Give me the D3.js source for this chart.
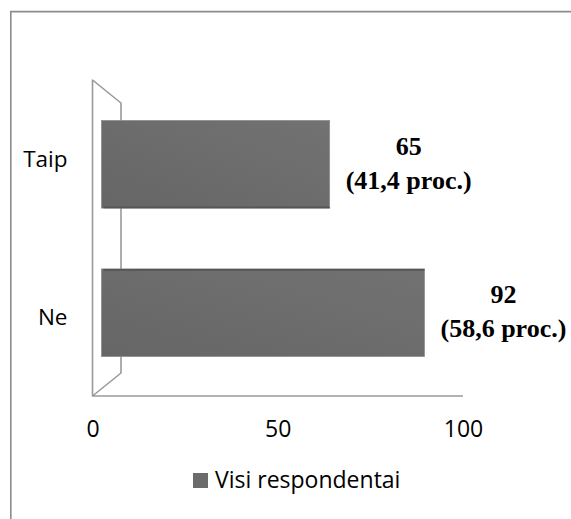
<!DOCTYPE html>
<html>
<head>
<meta charset="utf-8">
<script src="https://cdn.jsdelivr.net/npm/d3@7"></script>
<style>
  html, body { margin: 0; padding: 0; background: #fff; }
  svg { display: block; }
</style>
</head>
<body>
<svg id="chart" width="571" height="519"></svg>
<script>
// Survey answers: count of respondents per answer
const categories = ["Taip", "Ne"];
const counts = [65, 92];
const percents = ["41,4", "58,6"];
const tickValues = [0, 50, 100];
const seriesName = "Visi respondentai";

const svg = d3.select("#chart");
const W = 571, H = 519;

const lineColor = "#9a9a9a";
const barColor = "#6b6b6b";

// outer frame (top and left edges)
svg.append("path")
  .attr("d", `M10.8,${H} V11.6 H${W}`)
  .attr("fill", "none")
  .attr("stroke", "#8c8c8c")
  .attr("stroke-width", 1.6);

// front plane axis scale and the slightly receded scale used for the bars
const xFront = d3.scaleLinear().domain([0, 100]).range([92.5, 463]);
const xBar = d3.scaleLinear().domain([0, 100]).range([101.5, 452.5]);

// category bands: bars sit inside the wall, labels follow the front plane
const yBar = d3.scaleBand().domain(categories).range([90, 387])
  .paddingInner(0.41).paddingOuter(0.205);
const yFront = d3.scaleBand().domain(categories).range([80, 396]);

// 3D side wall and floor edge
const depth = { dx: 28.5, dy: 23 };
const wallTop = 80, wallBottom = 396;
const x0 = xFront(0);
svg.append("path")
  .attr("d", `M${x0},${wallBottom} V${wallTop} L${x0 + depth.dx},${wallTop + depth.dy}
              V${wallBottom - depth.dy} L${x0},${wallBottom} H${xFront(100)}`)
  .attr("fill", "none")
  .attr("stroke", lineColor)
  .attr("stroke-width", 1.6)
  .attr("stroke-linejoin", "round");

// subtle shading across the bar faces
const defs = svg.append("defs");
const grad = defs.append("linearGradient").attr("id", "barFace")
  .attr("x1", "0%").attr("y1", "100%").attr("x2", "100%").attr("y2", "0%");
grad.append("stop").attr("offset", "0%").attr("stop-color", "#666666");
grad.append("stop").attr("offset", "100%").attr("stop-color", "#727272");

const data = categories.map((c, i) => ({ cat: c, value: counts[i], pct: percents[i], idx: i }));

const bars = svg.append("g").selectAll("g.bar").data(data).join("g").attr("class", "bar");

bars.append("rect")
  .attr("x", d => xBar(0))
  .attr("y", d => yBar(d.cat))
  .attr("width", d => xBar(d.value) - xBar(0))
  .attr("height", yBar.bandwidth())
  .attr("fill", "url(#barFace)")
  .attr("stroke", "#8e8e8e")
  .attr("stroke-width", 0.8);

// thin visible top/bottom face of each 3D bar
bars.append("rect")
  .attr("x", d => xBar(0) + 2)
  .attr("y", d => d.idx === 0 ? yBar(d.cat) + yBar.bandwidth() - 1.5 : yBar(d.cat))
  .attr("width", d => xBar(d.value) - xBar(0) - 2)
  .attr("height", 1.8)
  .attr("fill", "#555");

// category labels
svg.append("g").selectAll("text").data(data).join("text")
  .attr("x", 67.5)
  .attr("y", d => yFront(d.cat) + yFront.bandwidth() / 2 + 7.5)
  .attr("text-anchor", "end")
  .attr("font-family", "'Open Sans', sans-serif")
  .attr("font-size", 22.5)
  .attr("fill", "#000")
  .text(d => d.cat);

// value labels: count and share
const vl = svg.append("g").selectAll("text").data(data).join("text")
  .attr("text-anchor", "middle")
  .attr("font-family", "'Liberation Serif', 'Times New Roman', serif")
  .attr("font-weight", "bold")
  .attr("font-size", 26)
  .attr("fill", "#000");
vl.append("tspan")
  .attr("x", d => xBar(d.value) + 79)
  .attr("y", d => yBar(d.cat) + yBar.bandwidth() / 2 - 9.5)
  .text(d => d.value);
vl.append("tspan")
  .attr("x", d => xBar(d.value) + 79)
  .attr("y", d => yBar(d.cat) + yBar.bandwidth() / 2 + 24.5)
  .text(d => `(${d.pct} proc.)`);

// x axis labels
const axis = d3.axisBottom(xFront).tickValues(tickValues).tickSize(0).tickPadding(0);
const gx = svg.append("g").attr("transform", `translate(0,${421})`).call(axis);
gx.select(".domain").remove();
gx.selectAll("text")
  .attr("dy", "0.71em")
  .attr("font-family", "'Open Sans', sans-serif")
  .attr("font-size", 23)
  .attr("fill", "#000");

// legend
const lg = svg.append("g").attr("transform", "translate(193,473)");
lg.append("rect").attr("width", 15).attr("height", 15).attr("fill", barColor);
lg.append("text")
  .attr("x", 22).attr("y", 14.5)
  .attr("font-family", "'Open Sans', sans-serif")
  .attr("font-size", 23)
  .attr("fill", "#000")
  .text(seriesName);
</script>
</body>
</html>
